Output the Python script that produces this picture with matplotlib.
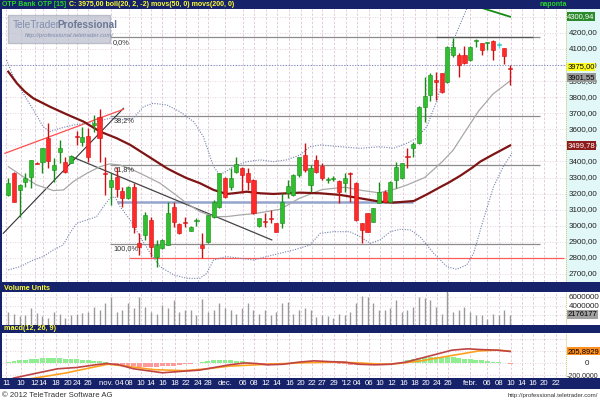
import matplotlib
matplotlib.use('Agg')
import matplotlib.pyplot as plt
import matplotlib.transforms as mtransforms
from matplotlib.patches import Rectangle

# ---------------- data ----------------
opens = [3192,3330,3223,3275,3302,3393,3399,3545,3347,3461,
         3399,3389,3555,3523,3559,3627,3679,3330,3243,3306,
         3217,3171,3243,2895,2943,3036,2808,2860,2880,3119,
         3011,3026,2970,3032,2880,2901,3057,3119,3299,3243,
         3337,3358,3327,3285,3001,3026,3047,3016,3016,3202,
         3192,3316,3441,3254,3410,3372,3287,3291,3281,3265,
         3328,3265,3016,3078,3026,3144,3212,3150,3285,3296,
         3434,3482,3514,3741,3814,3907,3949,3897,4063,4063,
         4063,4032,4150,4136,4140,4152,4131,4105,3982]
closes = [3265,3150,3254,3299,3410,3385,3482,3403,3378,3486,
          3337,3436,3551,3555,3430,3642,3545,3322,3285,3227,
          3171,3243,2994,2870,3067,2870,2880,2912,3082,3026,
          2953,3019,2994,3036,2860,3067,3150,3327,3181,3296,
          3383,3316,3275,3078,3047,3022,3040,2963,3150,3248,
          3316,3428,3347,3358,3337,3296,3290,3294,3212,3296,
          3325,3036,2974,2963,3109,3212,3150,3275,3368,3389,
          3426,3509,3741,3808,3939,3897,3835,4115,4115,4001,
          4011,4115,4152,4094,4142,4094,4131,4057,3975]
highs = [3298,3337,3258,3330,3412,3395,3485,3642,3420,3534,
         3430,3440,3592,3617,3607,3690,3725,3426,3329,3364,
         3243,3246,3265,2953,3088,3057,2912,2915,3150,3150,
         3015,3057,2998,3049,2953,3070,3160,3330,3305,3358,
         3430,3368,3358,3290,3050,3078,3098,3020,3202,3285,
         3320,3430,3514,3378,3441,3391,3306,3310,3285,3327,
         3337,3275,3018,3080,3112,3275,3223,3280,3399,3392,
         3482,3524,3745,3928,3951,3959,3950,4120,4167,4074,
         4119,4120,4161,4137,4146,4153,4146,4106,4001]
lows = [3186,3148,3057,3243,3233,3382,3327,3358,3274,3389,
        3327,3389,3503,3497,3399,3586,3399,3192,3130,3181,
        3119,3168,2953,2818,2912,2808,2746,2855,2878,2994,
        2950,2994,2966,2999,2798,2895,3050,3110,3175,3223,
        3327,3202,3223,3075,2995,2994,3016,2960,2984,3173,
        3188,3306,3337,3212,3327,3285,3265,3278,3140,3212,
        3150,3030,2891,2960,3022,3140,3140,3146,3233,3292,
        3358,3430,3510,3648,3779,3783,3825,3890,4052,3928,
        4008,4028,4111,4063,4094,4032,4105,4005,3876]

volume_m = [2.8,2.3,1.9,2.1,3.6,2.5,1.9,1.5,2.7,2.4,1.5,2.1,2.3,2.5,
            2.7,3.9,3.1,4.6,6.1,2.7,3.1,4.6,3.5,6.1,3.9,2.7,2.3,4.2,3.5,
            5.3,2.7,3.1,3.1,2.0,5.5,2.7,3.1,4.6,3.5,3.1,2.4,3.5,4.6,3.1,
            2.4,3.1,2.0,2.7,4.6,5.0,2.4,3.1,3.5,3.1,1.6,2.0,1.8,1.5,2.4,
            2.0,2.7,4.6,6.3,6.1,4.6,3.1,3.1,3.5,5.3,2.7,3.1,3.9,6.1,5.7,
            5.3,3.9,2.4,7.5,2.7,3.1,3.9,2.7,2.0,2.0,1.2,2.4,2.0,3.1,2.176177]

ma50_x = [0,1.5,2.9,4.4,7.3,10.2,13.2,16.1,19,21.4,23.7,26,27.8,29.5,31.3,33.6,36,38.3,
          39.5,41.8,44.2,46.5,48.8,51.2,54.7,58.2,61.7,65.2,67.5,71.1,73.4,75.7,77.2,79.2,
          81.3,82.8,85.1,88]
ma50_v = [3959,3887,3835,3793,3741,3694,3648,3586,3545,3503,3451,3399,3358,3327,3296,3265,
          3223,3198,3202,3212,3202,3198,3202,3206,3202,3192,3171,3150,3144,3154,3195,3240,
          3268,3310,3360,3400,3445,3499.78]

ma20_x = [0,2.6,5,7.9,9.7,11.4,13.8,16.1,17.8,19.6,21.9,24.3,26.6,29,31.3,33.6,36,38.3,
          40.6,43,45.3,47.7,51,55,59,62,65,68,70,73,76,78,80,82.5,85,88]
ma20_v = [3368,3306,3254,3219,3223,3275,3327,3368,3385,3378,3347,3306,3265,3202,3140,3088,
          3057,3057,3067,3075,3088,3103,3170,3225,3240,3220,3205,3230,3255,3300,3395,3470,
          3580,3715,3820,3901.55]

bb_up_x = [-0.3,0.9,2.6,4.4,6.1,7.3,9.1,11.4,13.8,15.5,17.8,20.2,21.9,23.7,25.4,27.8,30.1,
           32.5,34.2,36,37.1,39.5,41.8,44.2,46.5,48.8,51.2,52.9,54.7,58.2,61.7,65.2,67.5,
           69.9,71.6,73.4,75.2,76.5,78,80.5,82]
bb_up_v = [4032,3928,3825,3721,3617,3586,3607,3627,3638,3648,3669,3659,3669,3741,3762,3752,
           3710,3648,3555,3368,3316,3368,3399,3410,3399,3410,3441,3492,3503,3492,3482,3492,
           3482,3513,3545,3617,3783,3950,4150,4360,4480]

bb_lo_x = [0,2.1,4.4,6.1,7.9,9.6,10.8,12,13.8,15.5,16.7,17.8,18.7,19.6,21.4,23.1,24.9,26.6,
           29,31.3,33.6,34.8,36,38.3,40.6,43,45.3,47.7,50,52.9,54.7,57,59.9,61.7,63.5,65.2,
           67,68.7,70.5,72.2,74.6,76.9,78.6,80.4,81.6,83.3,85.1,86.8,88.3]
bb_lo_v = [2725,2746,2787,2808,2849,2880,2953,3016,3036,3057,3119,3171,3181,3119,3036,2932,
           2829,2746,2694,2673,2673,2704,2787,2808,2798,2787,2808,2829,2849,2880,2953,2963,
           2963,2932,2891,2912,2963,2978,2974,2932,2829,2746,2729,2756,2829,3036,3243,3368,3451]

ma200_x = [81.5,84,86,88]
ma200_v = [4372,4345,4323,4300.94]

macd_x = [0.9,5.3,8.6,12,15.3,17.3,19.4,22,25.4,27,30.1,33.5,36.1,38.8,41.5,43.5,45.5,48.2,
          50.9,53.6,56.3,59,61.6,64.3,67,69.7,72.4,75.1,77.8,80.5,83.1,85.8,88]
macd_v = [-244,-155,-89,-67,-22,0,-22,-89,-133,-155,-133,-111,-67,-22,9,0,-22,-13,22,44,31,
          22,-13,-22,-13,22,89,155,222,244,231,222,200]
signal_x = [4,10,15,17.5,20.7,25.4,30.8,34.8,38.8,45.5,52.2,57.6,61.6,65.7,68.4,72.4,77.8,
            82.5,85.8,88]
signal_v = [-253,-160,-60,-13,-44,-102,-120,-89,-44,-13,13,22,9,-13,0,44,133,209,222,205.89]
hist_v = [30,45,55,65,75,80,85,88,88,85,80,75,70,62,55,45,35,25,
          5,-15,-30,-40,-48,-55,-58,-58,-55,-50,-42,-35,-25,-15,-5,
          10,25,40,50,55,58,55,45,35,20,5,-8,
          -10,-8,-3,8,15,20,
          25,28,25,20,15,10,5,-5,
          -12,-18,-22,-25,-25,-20,-15,-8,
          5,15,30,50,70,85,100,108,112,112,110,100,90,80,70,60,50,40,30,20,0,-15]

date_labels = ['11','10','12','14','18','20','24','26',
               'nov. 04','08','10','14','16','18','22','24','28',
               'dec.','06','08','12','14','16','20','22','27','29',
               "'12",'04','06','10','12','16','18','20','24','26',
               'febr.','06','08','10','14','16','20','22']
date_pos = [-0.4,2.2,4.6,6.1,8.4,10.4,12,14,
            18,21.2,23.2,25,27,29.2,31.2,33.2,35.1,
            38,41.2,43.1,45.2,47.1,49.3,51.3,53.3,55.1,57.2,
            59.3,61.2,63.2,65.2,67.2,69.3,71.3,73.3,75.2,77.1,
            81,84,86.1,88.1,90,92,94,96]

price_ticks = [2700,2800,2900,3000,3100,3200,3300,3400,3500,3600,3700,3800,3900,4000,4100,4200]
fib_levels = [4173,3683,3378,2887]
fib_labels = ['0,0%','38,2%','61,8%','100,0%']
support_level = 3150
line_4000 = 4000
red_level = 2800
resist_level = 4175
trend_up = ([-0.88,20.2],[2953,3731])
trend_red = ([-0.58,20.2],[3451,3725])
trend_down = ([11.1,46.2],[3430,2912])

# ---------------- figure ----------------
W, H = 600, 400
NAVY = '#16226a'
XMIN, XMAX = -1.1, 97.8
PMIN, PMAX = 2650, 4349
fig = plt.figure(figsize=(6, 4), dpi=100, facecolor=NAVY)
SANS = ['Liberation Sans', 'DejaVu Sans']

def ax_px(x0, y0, x1, y1, fc='white'):
    a = fig.add_axes([x0 / W, 1 - y1 / H, (x1 - x0) / W, (y1 - y0) / H], facecolor=fc)
    a.set_xticks([]); a.set_yticks([])
    for s in a.spines.values():
        s.set_visible(False)
    return a

GRID = '#dcc6d6'

# ---- main price panel ----
ax = ax_px(2, 9, 566, 282)
ax.set_xlim(XMIN, XMAX); ax.set_ylim(PMIN, PMAX)
for p in price_ticks + [4300]:
    ax.axhline(p, color=GRID, lw=0.6, ls=(0, (1, 2)), zorder=0)
for x in date_pos:
    ax.axvline(x, color=GRID, lw=0.6, ls=(0, (3, 2)), zorder=0)

ax.axhline(line_4000, color='#7d8cc0', lw=0.8, ls=(0, (1, 1.5)), zorder=1)
for lvl, lab in zip(fib_levels, fib_labels):
    ax.hlines(lvl, 17.8, 93.3, color='#8c8c8c', lw=0.9, zorder=1)
    ax.annotate(lab, (18.4, lvl), xytext=(0, -1), textcoords='offset points',
                va='top', ha='left', fontsize=5.3, color='#333333', family=SANS)
ax.hlines(resist_level, 75, 92, color='#555555', lw=0.9, zorder=1)
ax.hlines(support_level, 19.1, 71, color='#94a4cc', lw=1.8, zorder=1)
ax.hlines(red_level, 21.2, 97.5, color='#ff5a5a', lw=0.9, zorder=1)

ax.plot(*trend_up, color='#333333', lw=0.8, zorder=2)
ax.plot(*trend_red, color='#ff4d4d', lw=0.9, zorder=2)
ax.plot(*trend_down, color='#444444', lw=0.9, zorder=2)

ax.plot(bb_up_x, bb_up_v, color='#7484b0', lw=0.8, ls=(0, (1, 1.3)), zorder=2)
ax.plot(bb_lo_x, bb_lo_v, color='#7484b0', lw=0.8, ls=(0, (1, 1.3)), zorder=2)
ax.plot(ma20_x, ma20_v, color='#a8a8a8', lw=0.9, zorder=2)
ax.plot(ma50_x, ma50_v, color='#7f1414', lw=1.6, zorder=3)
ax.plot(ma200_x, ma200_v, color='#138a13', lw=1.3, zorder=3)

for k, (o, h, l, c) in enumerate(zip(opens, highs, lows, closes)):
    if c > o:
        col, ec = '#2fbf2f', '#178a17'
    elif c < o:
        col, ec = '#ff2b2b', '#d01010'
    else:
        col, ec = '#44dede', '#22bbbb'
    ax.vlines(k, l, h, color=ec if c != o else col, lw=1.0, zorder=4)
    body = max(abs(c - o), 6)
    bottom = min(o, c) if abs(c - o) >= 6 else (o + c) / 2 - 3
    ax.bar(k, body, bottom=bottom, width=0.72, color=col, edgecolor=ec, lw=0.4, zorder=5)

# right price scale
axr = ax_px(566, 9, 600, 282, '#e2f8f8')
axr.set_ylim(PMIN, PMAX); axr.set_xlim(0, 1)
axr.axvline(0.01, color='#c8c86a', lw=0.7, ls=(0, (1, 1)))
for p in price_ticks:
    axr.text(0.07, p, f'{p},00', va='center', ha='left', fontsize=5.8, color='#222222',
             family=SANS, zorder=1)
tag_kw = dict(va='center', ha='left', fontsize=5.5, family=SANS, zorder=5)
axr.text(0.04, 4300.94, '4300,94', color='white',
         bbox=dict(boxstyle='square,pad=0.1', fc='#2b8a2b', ec='none'), **tag_kw)
axr.annotate('3975,00', (0.04, 3975), xytext=(0, 1.5), textcoords='offset points', color='black',
             bbox=dict(boxstyle='square,pad=0.1', fc='#ffff20', ec='none'), **tag_kw)
axr.annotate('3901,55', (0.04, 3901.55), xytext=(0, 2.5), textcoords='offset points',
             color='black', bbox=dict(boxstyle='square,pad=0.1', fc='#9a9a9a', ec='none'), **tag_kw)
axr.text(0.04, 3499.78, '3499,78', color='white',
         bbox=dict(boxstyle='square,pad=0.1', fc='#8e1b1b', ec='none'), **tag_kw)

# watermark
fig.patches.append(Rectangle((8 / W, 1 - 43 / H), 102 / W, 28 / H, transform=fig.transFigure,
                             fc='#b9bdcc', ec='#a8acbc', alpha=0.7, zorder=10))
fig.text(13 / W, 1 - 25 / H, 'TeleTrader', color='#8090b0', fontsize=7.2, va='center',
         family=SANS, zorder=11)
fig.text(57 / W, 1 - 25 / H, 'Professional', color='#6b7896', fontsize=7.2, va='center',
         fontweight='bold', family=SANS, zorder=11)
fig.text(25 / W, 1 - 35 / H, 'http://professional.teletrader.com/', color='#7d88a8',
         fontsize=4.3, va='center', style='italic', family=SANS, zorder=11)

# header (second text placed right after the first one)
t1 = fig.text(2 / W, 1 - 4.6 / H, 'OTP Bank OTP [15]', color='#27d827', fontsize=5.0,
              fontweight='bold', va='center', family=SANS)
fig.canvas.draw()
x_next = t1.get_window_extent().x1 + 3
fig.text(x_next / W, 1 - 4.6 / H, 'C: 3975,00 boll(20, 2, -2) movs(50, 0) movs(200, 0)',
         color='#ffff33', fontsize=5.0, fontweight='bold', va='center', family=SANS)
fig.text(553 / W, 1 - 4.6 / H, 'naponta', color='#27d827', fontsize=5.0,
         fontweight='bold', va='center', ha='center', family=SANS)

# ---- volume panel ----
axv = ax_px(2, 292, 566, 324.5)
axv.set_xlim(XMIN, XMAX); axv.set_ylim(0, 7.1e6)
for v in [2e6, 4e6, 6e6]:
    axv.axhline(v, color=GRID, lw=0.6, ls=(0, (1, 2)), zorder=0)
for x in date_pos:
    axv.axvline(x, color=GRID, lw=0.6, ls=(0, (3, 2)), zorder=0)
axv.vlines(range(len(volume_m)), 0, [v * 1e6 for v in volume_m], color='#9a9a9a', lw=1.0, zorder=2)
axvr = ax_px(566, 292, 600, 324.5, 'white')
axvr.set_ylim(0, 7.1e6); axvr.set_xlim(0, 1)
axvr.axvline(0.01, color='#c8c86a', lw=0.7, ls=(0, (1, 1)))
for v in [6e6, 4e6]:
    axvr.text(0.07, v, f'{int(v)}', va='center', ha='left', fontsize=5.8, color='#222222', family=SANS)
axvr.text(0.04, volume_m[-1] * 1e6, '2176177', color='black',
          bbox=dict(boxstyle='square,pad=0.1', fc='#a0a0a0', ec='none'), **tag_kw)
fig.text(4 / W, 1 - 288 / H, 'Volume Units', color='#ffff33', fontsize=5.2,
         fontweight='bold', va='center', family=SANS)

# ---- MACD panel ----
axm = ax_px(2, 333, 566, 378)
axm.set_xlim(XMIN, XMAX); axm.set_ylim(-242, 508)
for v in [-200, 0, 200, 400]:
    axm.axhline(v, color=GRID, lw=0.6, ls=(0, (1, 2)), zorder=0)
for x in date_pos:
    axm.axvline(x, color=GRID, lw=0.6, ls=(0, (3, 2)), zorder=0)
axm.bar(range(len(hist_v)), hist_v, width=0.85,
        color=['#8fee8f' if h >= 0 else '#ff9a9a' for h in hist_v], lw=0, zorder=1)
axm.plot(signal_x, signal_v, color='#ffa11f', lw=1.2, zorder=2)
axm.plot(macd_x, macd_v, color='#c04343', lw=1.2, zorder=3)
axmr = ax_px(566, 333, 600, 378, 'white')
axmr.set_ylim(-242, 508); axmr.set_xlim(0, 1)
axmr.axvline(0.01, color='#c8c86a', lw=0.7, ls=(0, (1, 1)))
axmr.text(0.55, 0, '0', va='center', ha='left', fontsize=5.8, color='#222222', family=SANS)
axmr.text(0.02, -200, '-200,0000', va='center', ha='left', fontsize=5.0, color='#222222', family=SANS)
axmr.text(0.04, 205.89, '205,8929', color='black',
          bbox=dict(boxstyle='square,pad=0.1', fc='#ff8f1f', ec='none'), **tag_kw)
fig.text(4 / W, 1 - 329 / H, 'macd(12, 26, 9)', color='#ffff33', fontsize=5.2,
         fontweight='bold', va='center', family=SANS)

# ---- date axis ----
trans = mtransforms.blended_transform_factory(axm.transData, fig.transFigure)
for lab, x in zip(date_labels, date_pos):
    axm.text(x, 1 - 383.5 / H, lab, transform=trans, color='white', fontsize=5.6,
             ha='center', va='center', family=SANS, clip_on=False)

# ---- footer ----
axf = ax_px(0, 389, 600, 400, 'white')
axf.set_xlim(0, 1); axf.set_ylim(0, 1)
axf.text(0.003, 0.45, '\u00a9 2012 TeleTrader Software AG', fontsize=5.6, color='#333333',
         va='center', ha='left', family=SANS)
axf.text(0.997, 0.45, 'http://professional.teletrader.com/', fontsize=4.4, color='#333333',
         va='center', ha='right', family=SANS)

fig.savefig('out.png', dpi=100, facecolor=NAVY)
